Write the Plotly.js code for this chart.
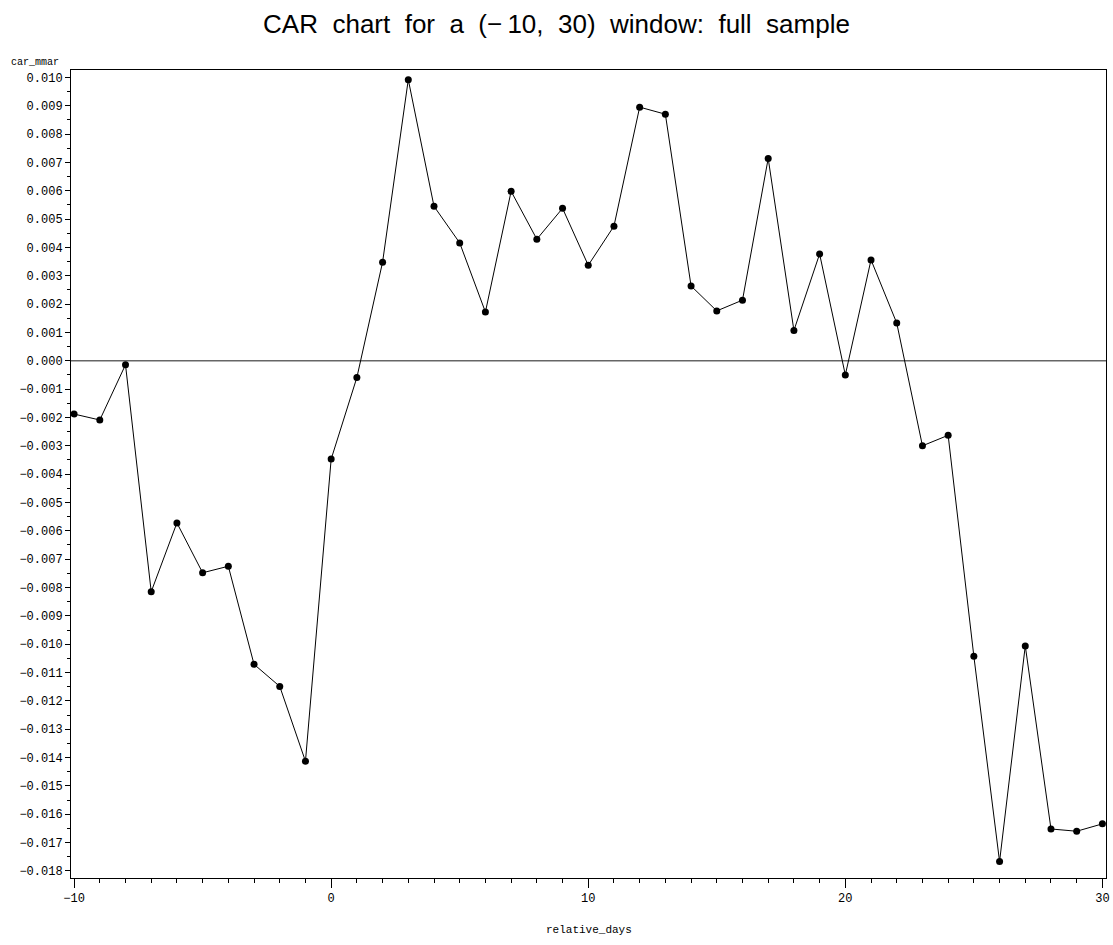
<!DOCTYPE html>
<html>
<head>
<meta charset="utf-8">
<script src="https://cdn.plot.ly/plotly-3.0.1.min.js"></script>
<style>html,body{margin:0;padding:0;background:#fff;}#chart{width:1113px;height:945px;}</style>
</head>
<body>
<div id="chart"></div>
<script>
const relativeDays = [-10,-9,-8,-7,-6,-5,-4,-3,-2,-1,0,1,2,3,4,5,6,7,8,9,10,11,12,13,14,15,16,17,18,19,20,21,22,23,24,25,26,27,28,29,30];
const carMmar = [-0.00188,-0.00209,-0.00014,-0.00815,-0.00572,-0.00748,-0.00725,-0.01071,-0.01149,-0.01413,
  -0.00347,-0.00059,0.00348,0.00992,0.00545,0.00416,0.00172,0.00598,0.00429,0.00538,
  0.00337,0.00475,0.00895,0.00870,0.00264,0.00176,0.00214,0.00714,0.00107,0.00377,
  -0.00050,0.00356,0.00133,-0.00300,-0.00263,-0.01043,-0.01767,-0.01006,-0.01652,-0.01660,-0.01634];
const titleText = "CAR\u00a0 chart\u00a0 for\u00a0 a\u00a0 (\u2212\u200910,\u00a0 30)\u00a0 window:\u00a0 full\u00a0 sample";
const yLabel = "car_mmar";
const xLabel = "relative_days";
const xTickVals = [-10, 0, 10, 20, 30];

const tickFont = {family: "Liberation Mono, DejaVu Sans Mono, monospace", size: 12, color: "#000"};

const trace = {
  x: relativeDays, y: carMmar, type: "scatter", mode: "lines+markers",
  line: {color: "#000", width: 1},
  marker: {color: "#000", size: 7, symbol: "circle"},
  hoverinfo: "x+y", showlegend: false
};

const layout = {
  width: 1113, height: 945,
  margin: {l: 71, r: 7, t: 70, b: 67},
  paper_bgcolor: "#fff", plot_bgcolor: "#fff",
  title: {text: titleText, x: 0.5, xanchor: "center", y: 0.975, yanchor: "middle",
          font: {family: "Liberation Sans, Arial, sans-serif", size: 26, color: "#000"}},
  xaxis: {
    range: [-10.12, 30.14], showgrid: false, zeroline: false,
    showline: true, linecolor: "#000", linewidth: 1, mirror: true,
    tickmode: "array", tickvals: xTickVals, ticks: "outside", ticklen: 9, tickcolor: "#000", tickwidth: 1,
    minor: {dtick: 1, ticks: "outside", ticklen: 4, tickcolor: "#000", showgrid: false},
    tickfont: tickFont
  },
  yaxis: {
    range: [-0.01825, 0.01026], showgrid: false, zeroline: false,
    showline: true, linecolor: "#000", linewidth: 1, mirror: true,
    dtick: 0.001, tick0: 0, tickformat: ".3f", ticks: "outside", ticklen: 5, tickcolor: "#000", tickwidth: 1,
    minor: {dtick: 0.0005, ticks: "outside", ticklen: 3, tickcolor: "#000", showgrid: false},
    tickfont: tickFont
  },
  shapes: [{type: "line", xref: "paper", x0: 0, x1: 1, yref: "y", y0: 0, y1: 0,
            line: {color: "#666", width: 1.5}, layer: "below"}],
  annotations: [
    {text: yLabel, xref: "paper", yref: "paper", x: -0.0595, y: 1.0, xanchor: "left", yanchor: "bottom",
     yshift: 0, showarrow: false, font: {family: "Liberation Mono, DejaVu Sans Mono, monospace", size: 10, color: "#000"}},
    {text: xLabel, xref: "paper", yref: "paper", x: 0.5, y: 0, xanchor: "center", yanchor: "top",
     yshift: -44, showarrow: false, font: {family: "Liberation Mono, DejaVu Sans Mono, monospace", size: 11, color: "#000"}}
  ]
};

Plotly.newPlot("chart", [trace], layout, {displayModeBar: false, staticPlot: true});
</script>
</body>
</html>
